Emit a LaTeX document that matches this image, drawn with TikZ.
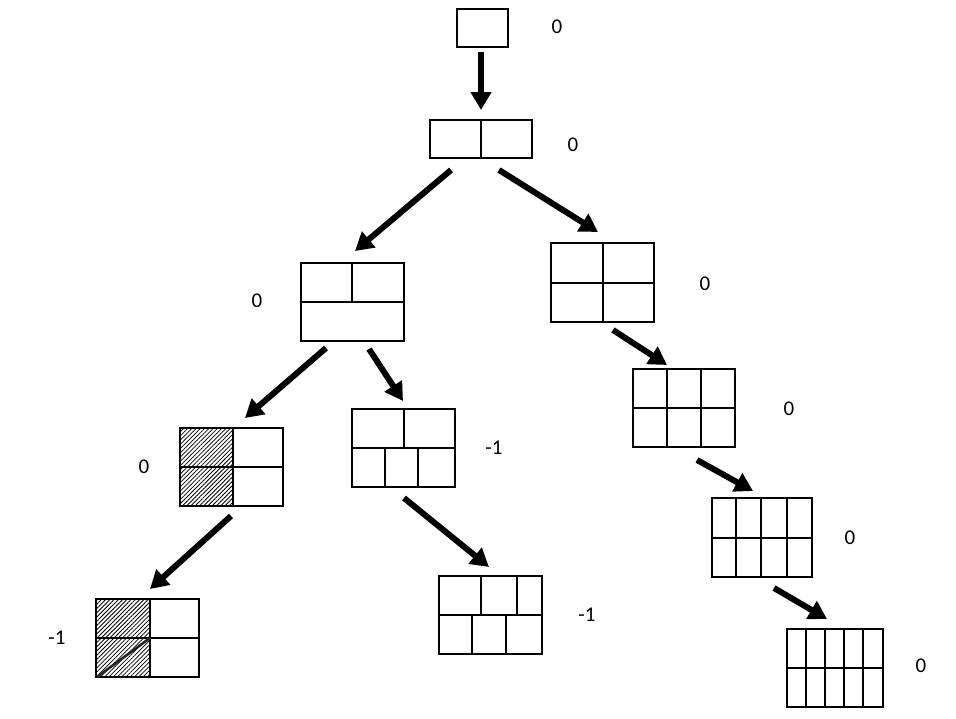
\documentclass[tikz,border=0pt]{standalone}
\usepackage{fontspec}
\setmainfont{Carlito}
\usetikzlibrary{arrows.meta,patterns.meta}
\begin{document}
\begin{tikzpicture}[x=1pt,y=-1pt,
  box/.style={draw,line width=1.2pt,minimum width=103pt,minimum height=78pt,inner sep=0pt,outer sep=0pt},
  thin/.style={line width=1.2pt},
  thick/.style={line width=2.6pt},
  arr/.style={line width=6pt,-{Triangle[length=18pt,width=20pt]}},
  val/.style={font=\fontsize{21}{25}\selectfont,inner sep=0pt},
  hatch/.style={pattern={Lines[angle=45,distance=3pt,line width=0.8pt]}}]
\useasboundingbox (0,0) rectangle (956,718);

% top: single cell
\node[box,minimum width=51pt,minimum height=38pt] (a) at (482.5,28) {};
% two cells
\node[box,minimum width=102pt,minimum height=38pt] (b) at (481,139) {};
\draw[thin] (481,120) -- (481,158);

% left branch: two over one
\node[box] (c) at (352.5,302) {};
\draw[thin] (301,302) -- (404,302) (352,263) -- (352,302);
% right branch: 2x2
\node[box,minimum height=79pt] (d) at (602.5,282.5) {};
\draw[thin] (551,283) -- (654,283) (603,243) -- (603,322);

% 2x2 with shaded left column
\fill[hatch] (180,428) rectangle (233,506);
\node[box] (e) at (231.5,467) {};
\draw[thin] (180,467) -- (283,467) (233,428) -- (233,506);

% two over three
\node[box] (f) at (403.5,448) {};
\draw[thin] (352,448) -- (455,448) (404,409) -- (404,448)
  (385,448) -- (385,487) (418,448) -- (418,487);

% 3x2
\node[box,minimum width=102pt] (g) at (684,408) {};
\draw[thin] (633,408) -- (735,408) (667,369) -- (667,447) (701,369) -- (701,447);

% 2x2 shaded, with diagonal in lower shaded cell
\fill[hatch] (96,599) rectangle (150,677);
\node[box] (h) at (147.5,638) {};
\draw[thin] (96,638) -- (199,638) (150,599) -- (150,677);
\draw[thick,black!85] (97,677) -- (150,638);

% three over three
\node[box] (i) at (490.5,615) {};
\draw[thin] (439,615) -- (542,615) (517,576) -- (517,615)
  (472,615) -- (472,654) (506,615) -- (506,654);
\draw[thick] (481,576) -- (481,615);

% 4x2
\node[box,minimum width=100pt,minimum height=79pt] (j) at (762,537.5) {};
\draw[thin] (761,498) -- (761,577) (787,498) -- (787,577);
\draw[thick] (712,538) -- (812,538) (736,498) -- (736,577);

% 5x2
\node[box,minimum width=96pt] (k) at (835,668) {};
\draw[thin] (825,629) -- (825,707) (844,629) -- (844,707);
\draw[thick] (787,668) -- (883,668) (806,629) -- (806,707) (863,629) -- (863,707);

% values
\node[val] (va) at (557,27) {0};
\node[val] (vb) at (573,145) {0};
\node[val] (vc) at (257,301) {0};
\node[val] (vd) at (705,284) {0};
\node[val] (ve) at (144,467) {0};
\node[val] (vf) at (494,448) {-1};
\node[val] (vg) at (789,409) {0};
\node[val] (vh) at (57,638) {-1};
\node[val] (vi) at (587,615) {-1};
\node[val] (vj) at (850,538) {0};
\node[val] (vk) at (921,666) {0};

% arrows
\draw[arr] ([shift={(-1.5,5)}]a.south) -- ([shift={(0,-10)}]b.north);
\draw[arr] ([shift={(-30,12)}]b.south) -- ([shift={(2.5,-12)}]c.north);
\draw[arr] ([shift={(18,12)}]b.south) -- ([shift={(-4.5,-11)}]d.north);
\draw[arr] ([shift={(-26.5,7)}]c.south) -- ([shift={(13.5,-10)}]e.north);
\draw[arr] ([shift={(16.5,8)}]c.south) -- ([shift={(-0.5,-8)}]f.north);
\draw[arr] ([shift={(10.5,8)}]d.south) -- ([shift={(-17,-4)}]g.north);
\draw[arr] ([shift={(-0.5,10)}]e.south) -- ([shift={(2.5,-10)}]h.north);
\draw[arr] ([shift={(0.5,11)}]f.south) -- ([shift={(-1.5,-9)}]i.north);
\draw[arr] ([shift={(13,13)}]g.south) -- ([shift={(-9,-7)}]j.north);
\draw[arr] ([shift={(12,11)}]j.south) -- ([shift={(-8,-10)}]k.north);
\end{tikzpicture}
\end{document}
